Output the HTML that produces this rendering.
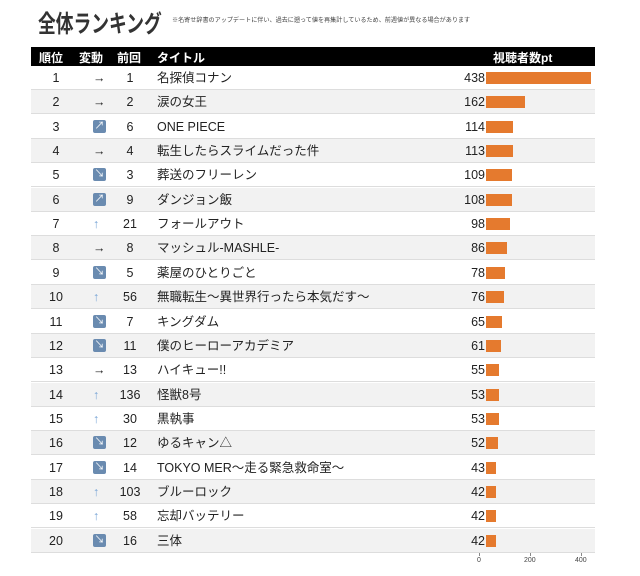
<!DOCTYPE html>
<html><head><meta charset="utf-8"><style>
body{margin:0;width:640px;height:576px;background:#fff;font-family:"Liberation Sans","Noto Sans CJK JP",sans-serif;position:relative;overflow:hidden;color:#222}
.t{position:absolute;left:38px;top:4px;font-size:24px;font-weight:bold;color:#333;transform:scaleX(0.74);transform-origin:0 0;white-space:nowrap}
.n{position:absolute;left:172px;top:15px;font-size:6.1px;color:#444;white-space:nowrap}
.h{position:absolute;left:31px;top:47px;width:564px;height:19px;background:#000;color:#fff;font-size:12px;font-weight:bold}
.h span,.r span{position:absolute;top:0}
.r{position:absolute;left:31px;width:564px;height:24px;border-bottom:1px solid #ddd;font-size:12.5px;box-sizing:border-box}
.r.g{background:#f2f2f2}
.c{text-align:center;width:30px}
.ic{display:inline-block;width:13px;height:13px;background:#6a8bb0;border-radius:2px;color:#fff;font-size:10px;line-height:13px;text-align:center;margin-top:5px}
.bar{position:absolute;left:455px;top:6px;height:12px;background:#e57a2e}
.ax{position:absolute;top:557px;font-size:7px;color:#444}
.tk{position:absolute;top:553px;width:1px;height:3px;background:#888}
</style></head><body>
<div class="t">全体ランキング</div>
<div class="n">※名寄せ辞書のアップデートに伴い、過去に遡って値を再集計しているため、前週値が異なる場合があります</div>
<div class="h"><span style="left:8px;top:2px">順位</span><span style="left:48px;top:2px">変動</span><span style="left:86px;top:2px">前回</span><span style="left:126px;top:2px">タイトル</span><span style="left:462px;top:2px">視聴者数pt</span></div>
<div id="rows"></div>
<div class="tk" style="left:479px"></div><div class="tk" style="left:530px"></div><div class="tk" style="left:581px"></div>
<div class="ax" style="left:477px">0</div><div class="ax" style="left:524px">200</div><div class="ax" style="left:575px">400</div>
<script>
var d=[[1,"→",1,"名探偵コナン",438],[2,"→",2,"涙の女王",162],[3,"u",6,"ONE PIECE",114],[4,"→",4,"転生したらスライムだった件",113],[5,"d",3,"葬送のフリーレン",109],[6,"u",9,"ダンジョン飯",108],[7,"↑",21,"フォールアウト",98],[8,"→",8,"マッシュル-MASHLE-",86],[9,"d",5,"薬屋のひとりごと",78],[10,"↑",56,"無職転生～異世界行ったら本気だす～",76],[11,"d",7,"キングダム",65],[12,"d",11,"僕のヒーローアカデミア",61],[13,"→",13,"ハイキュー!!",55],[14,"↑",136,"怪獣8号",53],[15,"↑",30,"黒執事",53],[16,"d",12,"ゆるキャン△",52],[17,"d",14,"TOKYO MER～走る緊急救命室～",43],[18,"↑",103,"ブルーロック",42],[19,"↑",58,"忘却バッテリー",42],[20,"d",16,"三体",42]];
var h="";
d.forEach(function(r,i){
var top=66+i*24.35;
var ch=r[1]=="u"?'<span class="ic">↗</span>':r[1]=="d"?'<span class="ic">↘</span>':r[1]=="↑"?'<span style="color:#7aa6d6;line-height:24px">↑</span>':'<span style="line-height:24px">→</span>';
h+='<div class="r'+(i%2?' g':'')+'" style="top:'+top+'px"><span class="c" style="left:10px;line-height:24px">'+r[0]+'</span><span class="c" style="left:47px;text-align:center">'+ch+'</span><span class="c" style="left:84px;line-height:24px">'+r[2]+'</span><span style="left:126px;line-height:24px">'+r[3]+'</span><span style="left:400px;width:54px;text-align:right;line-height:24px">'+r[4]+'</span><div class="bar" style="width:'+Math.round(r[4]*0.24)+'px"></div></div>';
});
document.getElementById("rows").innerHTML=h;
</script>
</body></html>
